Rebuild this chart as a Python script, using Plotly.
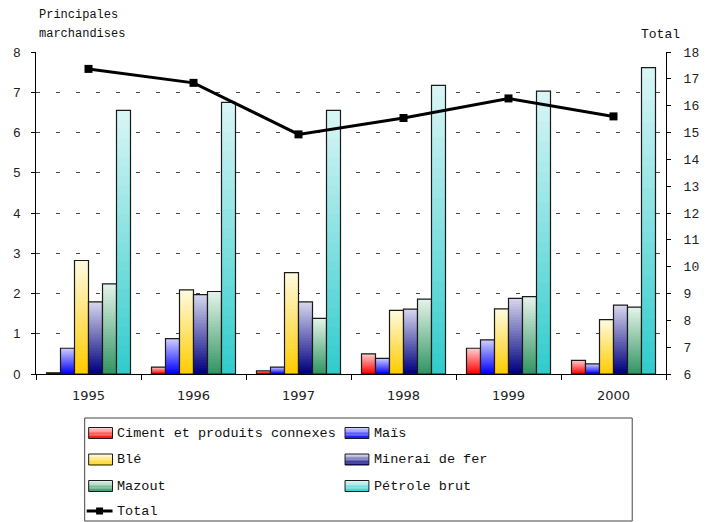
import plotly.graph_objects as go

# ---- data -------------------------------------------------------------
years = ["1995", "1996", "1997", "1998", "1999", "2000"]
ciment = [0.03, 0.17, 0.08, 0.50, 0.64, 0.34]
mais = [0.64, 0.88, 0.17, 0.39, 0.85, 0.25]
ble = [2.82, 2.09, 2.52, 1.58, 1.62, 1.35]
minerai = [1.79, 1.97, 1.79, 1.61, 1.88, 1.71]
mazout = [2.24, 2.05, 1.38, 1.86, 1.92, 1.66]
petrole = [6.55, 6.75, 6.55, 7.17, 7.03, 7.61]
total = [17.37, 16.85, 14.93, 15.54, 16.27, 15.60]

series_names = ["Ciment et produits connexes", "Maïs", "Blé",
                "Minerai de fer", "Mazout", "Pétrole brut"]
series_values = [ciment, mais, ble, minerai, mazout, petrole]
# (top colour, bottom colour) of each vertical gradient
series_grad = [
    ((255, 205, 205), (255, 0, 0)),
    ((205, 205, 255), (0, 0, 255)),
    ((255, 250, 222), (255, 204, 0)),
    ((212, 212, 236), (0, 0, 128)),
    ((226, 242, 232), (51, 150, 100)),
    ((216, 245, 245), (51, 204, 204)),
]

W, H = 711, 522
ML, MR, MT, MB = 36, 41, 52, 148
PW, PH = W - ML - MR, H - MT - MB

MONO = "Liberation Mono, Courier New, monospace"
SANS = "Liberation Sans, Arial, sans-serif"


def lerp(c0, c1, t):
    return "rgb(%d,%d,%d)" % tuple(round(a + (b - a) * t) for a, b in zip(c0, c1))


def px(x):
    return (x - ML) / PW


def py(y):
    return (H - MB - y) / PH


fig = go.Figure()

# gradient bars: overlaid bars of decreasing height, lightest (full height) first
STEPS = 28
for name, vals, (top, bot) in zip(series_names, series_values, series_grad):
    for j in range(STEPS):
        frac = (STEPS - j) / STEPS
        fig.add_trace(go.Bar(
            x=years, y=[v * frac for v in vals], offsetgroup=name,
            marker=dict(color=lerp(top, bot, j / (STEPS - 1)), line=dict(width=0)),
            showlegend=False, hoverinfo="skip"))
    # outline of the full bar
    fig.add_trace(go.Bar(
        x=years, y=vals, offsetgroup=name, name=name,
        marker=dict(color="rgba(0,0,0,0)", line=dict(color="#1a1a1a", width=1.2)),
        showlegend=False))

fig.add_trace(go.Scatter(
    x=years, y=total, yaxis="y2", name="Total", mode="lines+markers",
    line=dict(color="black", width=3),
    marker=dict(symbol="square", size=8, color="black"),
    showlegend=False))

# ---- legend (drawn as shapes + text) -----------------------------------
shapes = [dict(type="rect", xref="paper", yref="paper",
               x0=px(85), x1=px(636), y0=py(521), y1=py(418),
               line=dict(color="#444", width=1), fillcolor="rgba(0,0,0,0)")]
annotations = []
col_x = [89, 347]
row_y = [433, 459.5, 486, 511]
SW, SH = 24, 11
for i, (name, (top, bot)) in enumerate(zip(series_names, series_grad)):
    cx = col_x[i % 2]
    cy = row_y[i // 2]
    n = 8
    for s in range(n):
        y0 = cy - SH / 2 + SH * s / n
        y1 = cy - SH / 2 + SH * (s + 1) / n
        shapes.append(dict(type="rect", xref="paper", yref="paper",
                           x0=px(cx), x1=px(cx + SW), y0=py(y1), y1=py(y0),
                           line=dict(width=0), fillcolor=lerp(top, bot, s / (n - 1))))
    shapes.append(dict(type="rect", xref="paper", yref="paper",
                       x0=px(cx), x1=px(cx + SW), y0=py(cy + SH / 2), y1=py(cy - SH / 2),
                       line=dict(color="#1a1a1a", width=1), fillcolor="rgba(0,0,0,0)"))
    annotations.append(dict(text=name, xref="paper", yref="paper",
                            x=px(cx + SW + 3), y=py(cy), xanchor="left", yanchor="middle",
                            showarrow=False, font=dict(family=MONO, size=13.5, color="#111")))

# legend entry for the line
ly = row_y[3]
shapes.append(dict(type="line", xref="paper", yref="paper",
                   x0=px(87), x1=px(113), y0=py(ly), y1=py(ly),
                   line=dict(color="black", width=3)))
shapes.append(dict(type="rect", xref="paper", yref="paper",
                   x0=px(96.5), x1=px(103.5), y0=py(ly + 3.5), y1=py(ly - 3.5),
                   line=dict(width=0), fillcolor="black"))
annotations.append(dict(text="Total", xref="paper", yref="paper",
                        x=px(116), y=py(ly), xanchor="left", yanchor="middle",
                        showarrow=False, font=dict(family=MONO, size=13.5, color="#111")))

# axis titles
annotations += [
    dict(text="Principales", xref="paper", yref="paper", x=px(37), y=py(15),
         xanchor="left", yanchor="middle", showarrow=False,
         font=dict(family=MONO, size=12, color="#111")),
    dict(text="marchandises", xref="paper", yref="paper", x=px(37), y=py(34),
         xanchor="left", yanchor="middle", showarrow=False,
         font=dict(family=MONO, size=12, color="#111")),
    dict(text="Total", xref="paper", yref="paper", x=px(686), y=py(35),
         xanchor="right", yanchor="middle", showarrow=False,
         font=dict(family=MONO, size=13, color="#111")),
]

fig.update_layout(
    width=W, height=H,
    margin=dict(l=ML, r=MR, t=MT, b=MB, pad=0),
    paper_bgcolor="white", plot_bgcolor="white",
    barmode="group", bargap=0.2, bargroupgap=0,
    showlegend=False,
    shapes=shapes, annotations=annotations,
    xaxis=dict(type="category", tickson="boundaries", ticks="outside", ticklen=5,
               tickcolor="black", showline=True, linecolor="black", linewidth=1,
               showgrid=False, ticklabelstandoff=9,
               tickfont=dict(family="DejaVu Sans, Verdana, sans-serif",
                             size=13, color="#222")),
    yaxis=dict(range=[0, 8], dtick=1, ticks="outside", ticklen=4, tickcolor="black",
               showline=True, linecolor="black", linewidth=1, zeroline=False,
               showgrid=True, gridcolor="#444", gridwidth=1, griddash="4px,16px",
               ticklabelstandoff=8,
               tickfont=dict(family=SANS, size=13, color="#222")),
    yaxis2=dict(range=[6, 18], dtick=1, overlaying="y", side="right",
                ticks="outside", ticklen=4, tickcolor="black",
                showline=True, linecolor="black", linewidth=1, zeroline=False,
                showgrid=False, ticklabelstandoff=10,
                tickfont=dict(family=MONO, size=13, color="#222")),
)

fig.write_html("out.html")
